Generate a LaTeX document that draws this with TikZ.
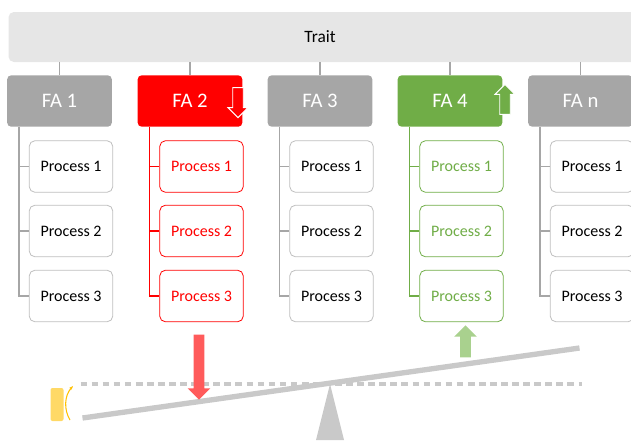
\documentclass[tikz,border=0pt]{standalone}
\usepackage{fontspec}
\setmainfont{Carlito}
\usepackage{tikz}
\usetikzlibrary{arrows.meta,calc,shapes.arrows}
\definecolor{fagray}{HTML}{A6A6A6}
\definecolor{fared}{HTML}{FF0000}
\definecolor{fagreen}{HTML}{70AD47}
\definecolor{boxgray}{HTML}{BFBFBF}
\definecolor{traitgray}{HTML}{E6E6E6}
\definecolor{beamgray}{HTML}{C9C9C9}
\definecolor{dropred}{HTML}{FF5B5B}
\definecolor{liftgreen}{HTML}{A9D18E}
\definecolor{tagyellow}{HTML}{FFD966}
\definecolor{curlyellow}{HTML}{FFC000}

\begin{document}
\begin{tikzpicture}[x=0.75pt,y=-0.75pt,
  trait/.style={rectangle,rounded corners=4pt,fill=traitgray,minimum width=474pt,minimum height=37.5pt,inner sep=0pt,font=\fontsize{13}{15}\selectfont},
  fa/.style={rectangle,rounded corners=3pt,fill=#1,text=white,minimum width=78.5pt,minimum height=38.5pt,inner sep=0pt,font=\fontsize{15.5}{18}\selectfont},
  proc/.style={rectangle,rounded corners=4pt,draw=boxgray,fill=white,line width=0.6pt,minimum width=62.5pt,minimum height=38.5pt,inner sep=0pt,font=\fontsize{12}{14}\selectfont},
  procred/.style={proc,draw=fared,text=fared},
  procgreen/.style={proc,draw=fagreen,text=fagreen},
  link/.style={draw=fagray,line width=0.9pt},
  badge/.style={single arrow,draw=white,line width=0.7pt,fill=#1,minimum height=22.5pt,inner xsep=0pt,inner ysep=3.6pt,single arrow head extend=3.6pt},
  push/.style={single arrow,fill=#1,inner xsep=0pt,inner ysep=3.9pt,single arrow head extend=4.4pt}]
\useasboundingbox (0,0) rectangle (631,440);
\clip (0,0) rectangle (631,440);
% top bar
\node[trait] (trait) at (324.5,37) {};
\node[font=\fontsize{13}{15}\selectfont] (traitlbl) at (320,37) {Trait};
% functional areas
\node[fa=fagray]  (fa1) at (59.5,101)  {FA 1};
\node[fa=fared]   (fa2) at (190,101)   {FA 2};
\node[fa=fagray]  (fa3) at (320,101)   {FA 3};
\node[fa=fagreen] (fa4) at (450,101)   {FA 4};
\node[fa=fagray]  (fan) at (580.5,101) {FA n};
\node[badge=fared,rotate=-90]  (dn2) at (238,100) {};
\node[badge=fagreen,rotate=90] (up4) at (505,102) {};
% processes
\node[proc] (p11) at (71,166.5) {Process 1};
\node[proc] (p12) at (71,231)   {Process 2};
\node[proc] (p13) at (71,296)   {Process 3};
\node[procred] (p21) at (201.5,166.5) {Process 1};
\node[procred] (p22) at (201.5,231)   {Process 2};
\node[procred] (p23) at (201.5,296)   {Process 3};
\node[proc] (p31) at (331.5,166.5) {Process 1};
\node[proc] (p32) at (331.5,231)   {Process 2};
\node[proc] (p33) at (331.5,296)   {Process 3};
\node[procgreen] (p41) at (461.5,166.5) {Process 1};
\node[procgreen] (p42) at (461.5,231)   {Process 2};
\node[procgreen] (p43) at (461.5,296)   {Process 3};
\node[proc] (pn1) at (592,166.5) {Process 1};
\node[proc] (pn2) at (592,231)   {Process 2};
\node[proc] (pn3) at (592,296)   {Process 3};
% trait -> FA
\draw[link] (trait.south -| fa1) -- (fa1.north); \draw[link] (trait.south -| fa2) -- (fa2.north);
\draw[link] (trait.south -| fa3) -- (fa3.north); \draw[link] (trait.south -| fa4) -- (fa4.north);
\draw[link] (trait.south -| fan) -- (fan.north);
% FA -> processes
\coordinate (s1) at ([xshift=9pt]fa1.south west);
\coordinate (s2) at ([xshift=9pt]fa2.south west);
\coordinate (s3) at ([xshift=9pt]fa3.south west);
\coordinate (s4) at ([xshift=9pt]fa4.south west);
\coordinate (sn) at ([xshift=9pt]fan.south west);
\draw[link] (s1) |- (p13.west); \draw[link] (s1 |- p11.west) -- (p11.west); \draw[link] (s1 |- p12.west) -- (p12.west);
\draw[link,draw=fared] (s2) |- (p23.west); \draw[link,draw=fared] (s2 |- p21.west) -- (p21.west); \draw[link,draw=fared] (s2 |- p22.west) -- (p22.west);
\draw[link] (s3) |- (p33.west); \draw[link] (s3 |- p31.west) -- (p31.west); \draw[link] (s3 |- p32.west) -- (p32.west);
\draw[link,draw=fagreen] (s4) |- (p43.west); \draw[link,draw=fagreen] (s4 |- p41.west) -- (p41.west); \draw[link,draw=fagreen] (s4 |- p42.west) -- (p42.west);
\draw[link] (sn) |- (pn3.west); \draw[link] (sn |- pn1.west) -- (pn1.west); \draw[link] (sn |- pn2.west) -- (pn2.west);
% balance
\draw[beamgray,line width=3pt,dash pattern=on 5pt off 3.3pt] (80.5,383.5) -- (582,383.5);
\fill[beamgray] (330,384) -- (344,440) -- (316,440) -- cycle;
\draw[beamgray,line width=4pt] (82.5,418) -- (579.5,348);
\node[push=dropred,rotate=-90,minimum height=48.75pt] (drop) at (199,364.5) {};
\node[push=liftgreen,rotate=90,minimum height=24pt] (lift) at (465.5,344) {};
\fill[tagyellow,rounded corners=1.5pt] (50.5,388) rectangle (63.5,421);
\draw[curlyellow,line width=0.8pt,-{Stealth[length=3pt]}] (70,420) .. controls (64,410) and (64,396) .. (73,386);
\end{tikzpicture}
\end{document}
